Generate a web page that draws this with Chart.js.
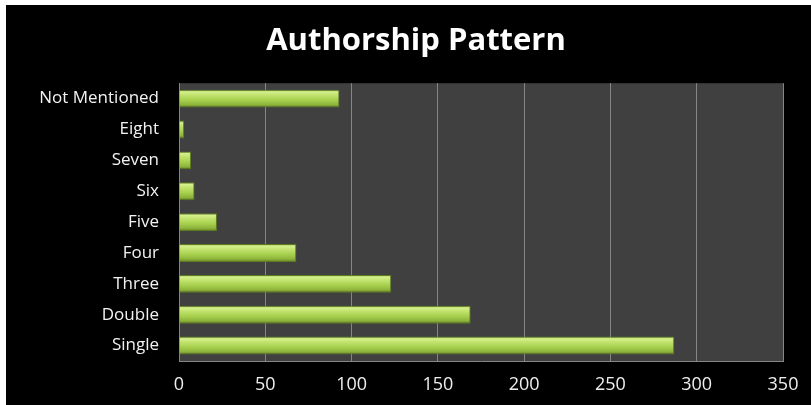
<!DOCTYPE html>
<html>
<head>
<meta charset="utf-8">
<script src="https://cdn.jsdelivr.net/npm/chart.js@4/dist/chart.umd.min.js"></script>
<style>
  html, body { margin: 0; padding: 0; background: #ffffff; width: 811px; height: 405px; overflow: hidden; }
  #box { position: absolute; left: 6px; top: 5px; width: 820px; height: 400px; background: #000000; }
  canvas { display: block; }
</style>
</head>
<body>
<div id="box"><canvas id="c" width="820" height="400"></canvas></div>
<script>
// Data (bottom-to-top order as in the reference)
const categories = ["Single", "Double", "Three", "Four", "Five", "Six", "Seven", "Eight", "Not Mentioned"];
const authorCounts = [287, 169, 123, 68, 22, 9, 7, 3, 93];
const xTickValues = [0, 50, 100, 150, 200, 250, 300, 350];
const chartTitle = "Authorship Pattern";

const BAR_PCT = 0.58;

const plotBackground = {
  id: 'plotBackground',
  beforeDraw(chart) {
    const { ctx, chartArea: a } = chart;
    ctx.save();
    ctx.fillStyle = '#404040';
    ctx.fillRect(a.left, a.top, a.right - a.left, a.bottom - a.top);
    ctx.restore();
  }
};

// Centre the title across the whole black panel rather than the padded area
const fullWidthTitle = {
  id: 'fullWidthTitle',
  afterLayout(chart) {
    if (chart.titleBlock) {
      chart.titleBlock.left = 0;
      chart.titleBlock.right = chart.width;
      chart.titleBlock.width = chart.width;
    }
  }
};

function barFill(context) {
  const chart = context.chart;
  const yScale = chart.scales && chart.scales.y;
  if (!chart.chartArea || !yScale || context.dataIndex === undefined) return '#a5cf4c';
  const cy = yScale.getPixelForValue(context.dataIndex);
  const half = (Math.abs(yScale.bottom - yScale.top) / categories.length) * BAR_PCT / 2;
  const g = chart.ctx.createLinearGradient(0, cy - half, 0, cy + half);
  g.addColorStop(0.0, '#8fb83c');
  g.addColorStop(0.12, '#d6f08e');
  g.addColorStop(0.3, '#c2e36e');
  g.addColorStop(0.6, '#a5cf4c');
  g.addColorStop(0.85, '#8db23a');
  g.addColorStop(1.0, '#5e7c22');
  return g;
}

new Chart(document.getElementById('c'), {
  type: 'bar',
  data: {
    labels: categories,
    datasets: [{
      data: authorCounts,
      backgroundColor: barFill,
      borderColor: '#5e7c22',
      borderWidth: 1,
      borderSkipped: 'left',
      barPercentage: BAR_PCT,
      categoryPercentage: 1.0
    }]
  },
  options: {
    indexAxis: 'y',
    responsive: false,
    animation: false,
    layout: { padding: { left: 0, right: 43, top: 0, bottom: 0 } },
    plugins: {
      legend: { display: false },
      tooltip: { enabled: false },
      title: {
        display: true,
        text: chartTitle,
        color: '#ffffff',
        font: { family: 'Open Sans', size: 31, weight: 'bold', lineHeight: 1.2 },
        padding: { top: 18, bottom: 23 }
      }
    },
    scales: {
      x: {
        min: 0,
        max: 350,
        afterBuildTicks(scale) { scale.ticks = xTickValues.map(v => ({ value: v })); },
        afterFit(scale) { scale.height = 44; },
        grid: { color: '#858585', lineWidth: 1, drawTicks: false },
        border: { display: true, color: '#858585' },
        ticks: {
          color: '#eeeeee',
          padding: 13,
          font: { family: 'Open Sans', size: 18 }
        }
      },
      y: {
        reverse: true,
        afterFit(scale) { scale.width = 173; },
        grid: { display: false, drawTicks: false },
        border: { display: true, color: '#858585' },
        ticks: {
          color: '#f2f2f2',
          padding: 20,
          font: { family: 'Open Sans', size: 17 }
        }
      }
    }
  },
  plugins: [plotBackground, fullWidthTitle]
});
</script>
</body>
</html>
